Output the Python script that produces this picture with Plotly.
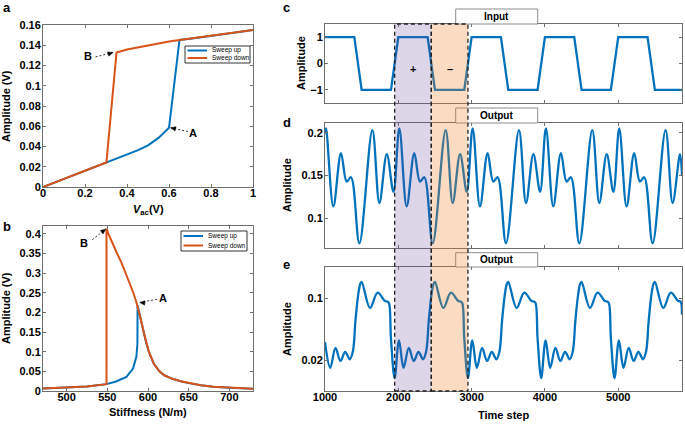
import math
import plotly.graph_objects as go

W, H = 685, 424
def px(x): return x / W
def py(y): return 1 - y / H

BLUE = '#0072BD'
ORANGE = '#D95319'
FONT = 'Liberation Sans'
FRAME = '#6e6e6e'

# ---------------- Panel a : amplitude vs Vac ----------------
a_up_x = [0, 0.1, 0.2, 0.3, 0.35, 0.4, 0.45, 0.5, 0.55, 0.6, 0.65, 0.7, 0.8, 0.9, 1.0]
a_up_y = [0, 0.008, 0.016, 0.0242, 0.028, 0.0318, 0.0362, 0.0412, 0.0485, 0.0585,
          0.1452, 0.1465, 0.149, 0.152, 0.155]
a_down_x = [1.0, 0.9, 0.8, 0.7, 0.65, 0.6, 0.5, 0.4, 0.35, 0.302, 0.2, 0.1, 0]
a_down_y = [0.155, 0.152, 0.149, 0.1465, 0.1452, 0.1438, 0.1400, 0.1358, 0.1328,
            0.0242, 0.016, 0.008, 0]

# ---------------- Panel b : amplitude vs stiffness ----------------
b_up_x = [471, 500, 525, 549, 560, 573.5, 581.6, 585.7, 587, 587.2, 589, 592, 594.7, 597.5,
          601, 607, 614, 620, 630, 640, 650, 665, 680, 700, 729]
b_up_y = [0.0065, 0.0085, 0.0115, 0.0175, 0.0235, 0.036, 0.057, 0.087, 0.12, 0.218, 0.2,
          0.175, 0.15, 0.125, 0.1, 0.07, 0.05, 0.04, 0.031, 0.025, 0.02, 0.0145, 0.011,
          0.0085, 0.006]
b_down_x = [729, 700, 680, 665, 650, 640, 630, 620, 614, 607, 601, 597.5, 594.7, 592, 589,
            587.2, 585.5, 581.6, 577, 572.6, 567.5, 562, 557, 551.4, 549, 549, 525, 500, 471]
b_down_y = [0.006, 0.0085, 0.011, 0.0145, 0.02, 0.025, 0.031, 0.04, 0.05, 0.07, 0.1, 0.125,
            0.15, 0.175, 0.2, 0.218, 0.228, 0.252, 0.277, 0.301, 0.326, 0.35, 0.372, 0.4,
            0.4136, 0.0175, 0.0115, 0.0085, 0.0065]

# ---------------- Panel c : input ----------------
c_t = [1000, 1400, 1500, 1900, 2000, 2400, 2500, 2900, 3000, 3400, 3500, 3900, 4000,
       4400, 4500, 4900, 5000, 5400, 5500, 5870]
c_v = [1, 1, -1, -1, 1, 1, -1, -1, 1, 1, -1, -1, 1, 1, -1, -1, 1, 1, -1, -1]

# ---------------- Panel d : output ----------------
d_t = [1000, 1014, 1114, 1218, 1296, 1355, 1469, 1646, 1742, 1843, 1934,
       2014, 2114, 2218, 2296, 2355, 2469, 2646, 2742, 2843, 2934,
       3014, 3114, 3218, 3296, 3355, 3469, 3646, 3742, 3843, 3934,
       4014, 4114, 4218, 4296, 4355, 4469, 4646, 4742, 4843, 4934,
       5014, 5114, 5218, 5296, 5355, 5469, 5646, 5742, 5843, 5870]
d_v = [0.199, 0.205, 0.114, 0.176, 0.143, 0.148, 0.071, 0.203, 0.118, 0.175, 0.131,
       0.205, 0.114, 0.176, 0.143, 0.148, 0.071, 0.203, 0.118, 0.175, 0.131,
       0.205, 0.114, 0.176, 0.143, 0.148, 0.071, 0.203, 0.118, 0.175, 0.131,
       0.205, 0.114, 0.176, 0.143, 0.148, 0.071, 0.203, 0.118, 0.175, 0.131,
       0.205, 0.114, 0.176, 0.143, 0.148, 0.071, 0.203, 0.118, 0.175, 0.150]

# ---------------- Panel e : output ----------------
e_t = [1000, 1072, 1143, 1211, 1275, 1338, 1380, 1415, 1450, 1480, 1500, 1614, 1718, 1818,
       1850, 1873, 1900, 1950,
       2009, 2072, 2143, 2211, 2275, 2338, 2380, 2415, 2450, 2480, 2500, 2614, 2718, 2818,
       2850, 2873, 2900, 2950,
       3009, 3072, 3143, 3211, 3275, 3338, 3380, 3415, 3450, 3480, 3500, 3614, 3718, 3818,
       3850, 3873, 3900, 3950,
       4009, 4072, 4143, 4211, 4275, 4338, 4380, 4415, 4450, 4480, 4500, 4614, 4718, 4818,
       4850, 4873, 4900, 4950,
       5009, 5072, 5143, 5211, 5275, 5338, 5380, 5415, 5450, 5480, 5500, 5614, 5718, 5818,
       5850, 5870]
e_v = [0.032, 0.0163, 0.0274, 0.0195, 0.0247, 0.0204, 0.025, 0.055, 0.105, 0.145, 0.153,
       0.0777, 0.1156, 0.093, 0.092, 0.088, 0.035, 0.0125,
       0.0334, 0.0163, 0.0274, 0.0195, 0.0247, 0.0204, 0.025, 0.055, 0.105, 0.145, 0.153,
       0.0777, 0.1156, 0.093, 0.092, 0.088, 0.035, 0.0125,
       0.0334, 0.0163, 0.0274, 0.0195, 0.0247, 0.0204, 0.025, 0.055, 0.105, 0.145, 0.153,
       0.0777, 0.1156, 0.093, 0.092, 0.088, 0.035, 0.0125,
       0.0334, 0.0163, 0.0274, 0.0195, 0.0247, 0.0204, 0.025, 0.055, 0.105, 0.145, 0.153,
       0.0777, 0.1156, 0.093, 0.092, 0.088, 0.035, 0.0125,
       0.0334, 0.0163, 0.0274, 0.0195, 0.0247, 0.0204, 0.025, 0.055, 0.105, 0.145, 0.153,
       0.0777, 0.1156, 0.093, 0.092, 0.065]

shade_edges = [1950, 2450, 2950]

fig = go.Figure()
fig.add_trace(go.Scatter(x=a_up_x, y=a_up_y, mode='lines', line=dict(color=BLUE, width=2),
                         xaxis='x', yaxis='y', name='Sweep up'))
fig.add_trace(go.Scatter(x=a_down_x, y=a_down_y, mode='lines', line=dict(color=ORANGE, width=2),
                         xaxis='x', yaxis='y', name='Sweep down'))
fig.add_trace(go.Scatter(x=b_up_x, y=b_up_y, mode='lines', line=dict(color=BLUE, width=2),
                         xaxis='x2', yaxis='y2', name='Sweep up'))
fig.add_trace(go.Scatter(x=b_down_x, y=b_down_y, mode='lines', line=dict(color=ORANGE, width=2),
                         xaxis='x2', yaxis='y2', name='Sweep down'))
fig.add_trace(go.Scatter(x=c_t, y=c_v, mode='lines', line=dict(color=BLUE, width=2.3),
                         xaxis='x3', yaxis='y3', name='Input'))
fig.add_trace(go.Scatter(x=d_t, y=d_v, mode='lines',
                         line=dict(color=BLUE, width=2.3, shape='spline', smoothing=1),
                         xaxis='x4', yaxis='y4', name='Output d'))
fig.add_trace(go.Scatter(x=e_t, y=e_v, mode='lines',
                         line=dict(color=BLUE, width=2.3, shape='spline', smoothing=1),
                         xaxis='x5', yaxis='y5', name='Output e'))

def axstyle(standoff, **kw):
    d = dict(showline=True, linecolor=FRAME, linewidth=1, mirror='ticks', ticks='inside',
             ticklen=3, tickcolor=FRAME, showgrid=False, zeroline=False, automargin=False,
             ticklabelstandoff=standoff,
             tickfont=dict(family=FONT, size=11, color='black', weight='bold'))
    d.update(kw)
    return d

XA = [px(43), px(253)]
XC = [px(325), px(682)]
XS, YS = -4, -1
fig.update_layout(
    template='none',
    width=W, height=H, margin=dict(l=0, r=0, t=0, b=0, pad=0), autosize=False,
    paper_bgcolor='white', plot_bgcolor='white', showlegend=False,
    xaxis=axstyle(XS, domain=XA, range=[0, 1], tickvals=[0, 0.2, 0.4, 0.6, 0.8, 1], anchor='y'),
    yaxis=axstyle(YS, domain=[py(187), py(25)], range=[0, 0.16], dtick=0.02, anchor='x'),
    xaxis2=axstyle(XS, domain=XA, range=[471, 729], tickvals=[500, 550, 600, 650, 700],
                   anchor='y2'),
    yaxis2=axstyle(YS, domain=[py(391), py(226)], range=[0, 0.42], dtick=0.05, anchor='x2'),
    xaxis3=axstyle(XS, domain=XC, range=[1000, 5870], tickvals=[1000, 2000, 3000, 4000, 5000],
                   showticklabels=False, anchor='y3'),
    yaxis3=axstyle(YS, domain=[py(103), py(24)], range=[-1.5, 1.5], tickvals=[-1, 0, 1],
                   anchor='x3'),
    xaxis4=axstyle(XS, domain=XC, range=[1000, 5870], tickvals=[1000, 2000, 3000, 4000, 5000],
                   showticklabels=False, anchor='y4'),
    yaxis4=axstyle(YS, domain=[py(248), py(123)], range=[0.0655, 0.2113],
                   tickvals=[0.1, 0.15, 0.2], anchor='x4'),
    xaxis5=axstyle(XS, domain=XC, range=[1000, 5870], tickvals=[1000, 2000, 3000, 4000, 5000],
                   anchor='y5'),
    yaxis5=axstyle(YS, domain=[py(391), py(267)], type='log', range=[-2.05, -0.646],
                   tickvals=[0.02, 0.1], ticktext=['0.02', '0.1'], anchor='x5'),
)

shapes = []
annots = []

def txt(x, y, s, size=11, bold=True, angle=0, xanchor='center', yanchor='middle'):
    annots.append(dict(x=x, y=y, xref='paper', yref='paper', text=s, showarrow=False,
                       textangle=angle, xanchor=xanchor, yanchor=yanchor,
                       font=dict(family=FONT, size=size, color='black',
                                 weight='bold' if bold else 'normal')))

# panel letters
txt(px(1), py(8), 'a', size=13, xanchor='left')
txt(px(1), py(226), 'b', size=13, xanchor='left')
txt(px(281), py(8), 'c', size=13, xanchor='left')
txt(px(281), py(122), 'd', size=13, xanchor='left')
txt(px(281), py(264), 'e', size=13, xanchor='left')

# axis titles
txt(px(6), py(106), 'Amplitude (V)', angle=-90)
txt(px(6), py(308), 'Amplitude (V)', angle=-90)
txt(px(148), py(210), '<i>V</i><sub>ac</sub>(V)')
txt(px(148), py(412), 'Stiffness (N/m)')
txt(px(301), py(63), 'Amplitude', angle=-90)
txt(px(287), py(185), 'Amplitude', angle=-90)
txt(px(287), py(329), 'Amplitude', angle=-90)
txt(px(504), py(415), 'Time step')

# legends (drawn)
def legend(x0, y0, x1, y1, rows):
    shapes.append(dict(type='rect', xref='paper', yref='paper', x0=px(x0), x1=px(x1),
                       y0=py(y1), y1=py(y0), line=dict(color='black', width=0.8),
                       fillcolor='white', layer='above'))
    for (yy, col, label) in rows:
        shapes.append(dict(type='line', xref='paper', yref='paper', x0=px(x0 + 2.5),
                           x1=px(x0 + 22), y0=py(yy), y1=py(yy),
                           line=dict(color=col, width=2), layer='above'))
        txt(px(x0 + 25), py(yy), label, size=6.5, bold=False, xanchor='left')

legend(185, 46, 250, 63, [(50.5, BLUE, 'Sweep up'), (58.0, ORANGE, 'Sweep down')])
legend(181, 231, 247, 251, [(236, BLUE, 'Sweep up'), (245.5, ORANGE, 'Sweep down')])

# dashed arrows: dashed line + small filled arrowhead (pixel-sized path)
def darrow(xr, yr, xs, ys, xe, ye, sdx, sdy):
    shapes.append(dict(type='line', xref=xr, yref=yr, x0=xs, y0=ys, x1=xe, y1=ye,
                       line=dict(color='black', width=0.8, dash='2px,2px'), layer='above'))
    n = math.hypot(sdx, sdy)
    ux, uy = sdx / n, -sdy / n
    L, w = 5.0, 2.2
    bx, by = -ux * L, -uy * L
    p1 = (bx - uy * w, by + ux * w)
    p2 = (bx + uy * w, by - ux * w)
    path = 'M 0 0 L %.2f %.2f L %.2f %.2f Z' % (p1[0], p1[1], p2[0], p2[1])
    shapes.append(dict(type='path', xref=xr, yref=yr, xsizemode='pixel', ysizemode='pixel',
                       xanchor=xe, yanchor=ye, path=path, fillcolor='black',
                       line=dict(color='black', width=0.5), layer='above'))

def lab(xr, yr, x, y, s):
    annots.append(dict(x=x, y=y, xref=xr, yref=yr, text=s, showarrow=False,
                       font=dict(family=FONT, size=11, color='black', weight='bold')))

lab('x', 'y', 0.214, 0.1295, 'B')
darrow('x', 'y', 0.25, 0.1285, 0.333, 0.1328, 16, -5)
lab('x', 'y', 0.716, 0.0535, 'A')
darrow('x', 'y', 0.69, 0.0548, 0.608, 0.0585, -17, -4)
lab('x2', 'y2', 521, 0.378, 'B')
darrow('x2', 'y2', 531.5, 0.385, 548, 0.412, 13, -10)
lab('x2', 'y2', 618.5, 0.237, 'A')
darrow('x2', 'y2', 611, 0.2335, 590, 0.2255, -17, -2)

# title boxes
for (y0, y1, label) in [(9, 24, 'Input'), (108, 123, 'Output'), (252.7, 267, 'Output')]:
    shapes.append(dict(type='rect', xref='paper', yref='paper', x0=px(455.7), x1=px(537.7),
                       y0=py(y1), y1=py(y0), line=dict(color='#8c8c8c', width=1),
                       fillcolor='white', layer='above'))
    txt(px(496.7), py((y0 + y1) / 2), label, size=10)

# shaded windows spanning c-e
fills = ['rgba(100,70,150,0.22)', 'rgba(240,130,40,0.28)']
for i in range(2):
    shapes.append(dict(type='rect', xref='x3', yref='paper', x0=shade_edges[i],
                       x1=shade_edges[i + 1], y0=py(391), y1=py(24), fillcolor=fills[i],
                       line=dict(color='#222222', width=1.3, dash='4px,3px'), layer='above'))

lab('x3', 'y3', 2200, -0.2, '+')
lab('x3', 'y3', 2700, -0.2, '\u2013')

fig.update_layout(shapes=shapes, annotations=annots)
fig.write_html('out.html', config={'displayModeBar': False},
               post_script="document.body.style.margin='0px';document.body.style.padding='0px';")
